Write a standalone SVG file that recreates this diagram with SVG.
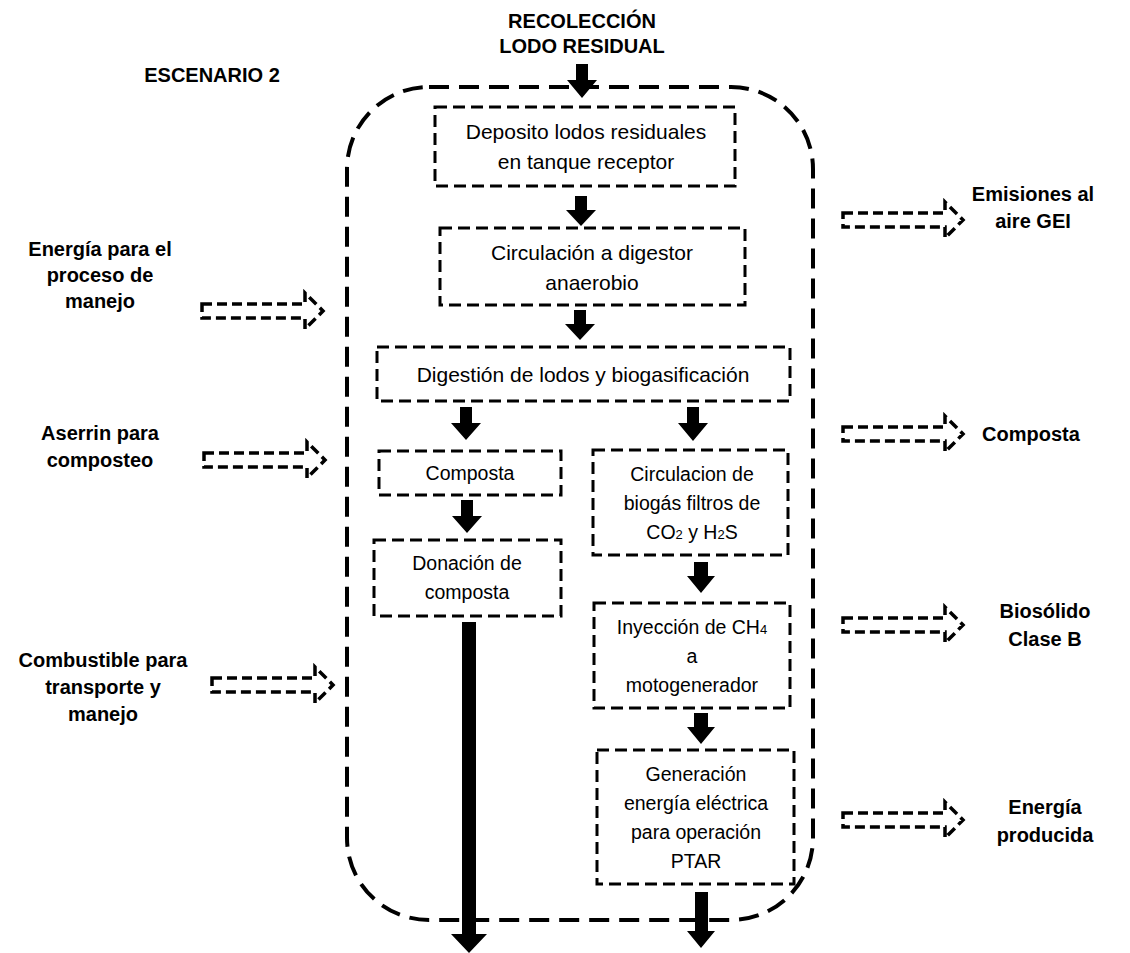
<svg xmlns="http://www.w3.org/2000/svg" width="1130" height="953" viewBox="0 0 1130 953">
<style>
.bg{fill:#fff}
.outer{fill:none;stroke:#000;stroke-width:4;stroke-dasharray:20 10}
.box{fill:#fff;stroke:#000;stroke-width:3;stroke-dasharray:12 6}
.harrow{fill:none;stroke:#000;stroke-width:3.5;stroke-dasharray:10 5}
.farrow{fill:#000;stroke:none}
.t{font-family:"Liberation Sans",Arial,sans-serif;font-size:19.5px;fill:#000;text-anchor:middle}
.tl{font-size:21px}
.b{font-family:"Liberation Sans",Arial,sans-serif;font-size:20px;font-weight:bold;fill:#000;text-anchor:middle}
.sub{font-size:13px}
</style>
<rect class="bg" x="0" y="0" width="1130" height="953"/>
<g id="titles">
<text class="b" x="582" y="28">RECOLECCIÓN</text>
<text class="b" x="582" y="53">LODO RESIDUAL</text>
<text class="b" x="212" y="82">ESCENARIO 2</text>
</g>
<g id="frame">
<rect class="outer" x="347" y="87" width="466" height="833" rx="82" ry="82"/>
</g>
<g id="inputs">
<g id="in-energia">
<text class="b" x="100" y="256">Energía para el</text>
<text class="b" x="100" y="282">proceso de</text>
<text class="b" x="100" y="308">manejo</text>
</g>
<g id="in-aserrin">
<text class="b" x="100" y="440">Aserrin para</text>
<text class="b" x="100" y="467">composteo</text>
</g>
<g id="in-combustible">
<text class="b" x="103" y="667">Combustible para</text>
<text class="b" x="103" y="694">transporte y</text>
<text class="b" x="103" y="721">manejo</text>
</g>
</g>
<g id="outputs">
<g id="out-emisiones">
<text class="b" x="1033" y="201">Emisiones al</text>
<text class="b" x="1033" y="228">aire GEI</text>
</g>
<g id="out-composta">
<text class="b" x="1031" y="441">Composta</text>
</g>
<g id="out-biosolido">
<text class="b" x="1045" y="618">Biosólido</text>
<text class="b" x="1045" y="646">Clase B</text>
</g>
<g id="out-energia">
<text class="b" x="1045" y="814">Energía</text>
<text class="b" x="1045" y="842">producida</text>
</g>
</g>
<g id="n1">
<rect class="box" x="435" y="107" width="300" height="79"/>
<text class="t tl" x="586" y="139">Deposito lodos residuales</text>
<text class="t tl" x="586" y="169">en tanque receptor</text>
</g>
<g id="n2">
<rect class="box" x="440" y="228" width="305" height="77"/>
<text class="t tl" x="592" y="260">Circulación a digestor</text>
<text class="t tl" x="592" y="290">anaerobio</text>
</g>
<g id="n3">
<rect class="box" x="377" y="347" width="413" height="54"/>
<text class="t tl" x="583" y="382">Digestión de lodos y biogasificación</text>
</g>
<g id="n4">
<rect class="box" x="379" y="451" width="182" height="44"/>
<text class="t" x="470" y="480">Composta</text>
</g>
<g id="n5">
<rect class="box" x="374" y="540" width="187" height="76"/>
<text class="t" x="467" y="570">Donación de</text>
<text class="t" x="467" y="599">composta</text>
</g>
<g id="n6">
<rect class="box" x="593" y="450" width="195" height="105"/>
<text class="t" x="692" y="481">Circulacion de</text>
<text class="t" x="692" y="510">biogás filtros de</text>
<text class="t" x="692" y="539">CO<tspan class="sub">2</tspan> y H<tspan class="sub">2</tspan>S</text>
</g>
<g id="n7">
<rect class="box" x="594" y="603" width="196" height="105"/>
<text class="t" x="692" y="634">Inyección de CH<tspan class="sub">4</tspan></text>
<text class="t" x="692" y="663">a</text>
<text class="t" x="692" y="692">motogenerador</text>
</g>
<g id="n8">
<rect class="box" x="597" y="750" width="197" height="134"/>
<text class="t" x="696" y="781">Generación</text>
<text class="t" x="696" y="810">energía eléctrica</text>
<text class="t" x="696" y="839">para operación</text>
<text class="t" x="696" y="868">PTAR</text>
</g>
<g id="connectors">
<polygon class="farrow" points="576,64 588,64 588,80 597,80 582,98 567,80 576,80"/>
<polygon class="farrow" points="575,196 587,196 587,210 596,210 581,226 566,210 575,210"/>
<polygon class="farrow" points="574,310 586,310 586,324 595,324 580,340 565,324 574,324"/>
<polygon class="farrow" points="460,407 472,407 472,423 481,423 466,440 451,423 460,423"/>
<polygon class="farrow" points="687,407 699,407 699,423 708,423 693,441 678,423 687,423"/>
<polygon class="farrow" points="461,500 473,500 473,516 482,516 467,533 452,516 461,516"/>
<polygon class="farrow" points="462,622 476,622 476,934 487,934 469,953 451,934 462,934"/>
<polygon class="farrow" points="694,562 708,562 708,576 715,576 701,593 687,576 694,576"/>
<polygon class="farrow" points="694,713 708,713 708,727 715,727 701,744 687,727 694,727"/>
<polygon class="farrow" points="695,892 708,892 708,931 715,931 701,948 687,931 695,931"/>
<polygon class="harrow" points="202,304 305,304 305,293 323,311 305,329 305,318 202,318"/>
<polygon class="harrow" points="204,453 307,453 307,442 325,460 307,478 307,467 204,467"/>
<polygon class="harrow" points="212,678 315,678 315,667 333,685 315,703 315,692 212,692"/>
<polygon class="harrow" points="843,213 945,213 945,202 963,220 945,238 945,227 843,227"/>
<polygon class="harrow" points="843,427 945,427 945,416 963,434 945,452 945,441 843,441"/>
<polygon class="harrow" points="843,618 945,618 945,607 963,625 945,643 945,632 843,632"/>
<polygon class="harrow" points="843,813 945,813 945,802 963,820 945,838 945,827 843,827"/>
</g>
</svg>
